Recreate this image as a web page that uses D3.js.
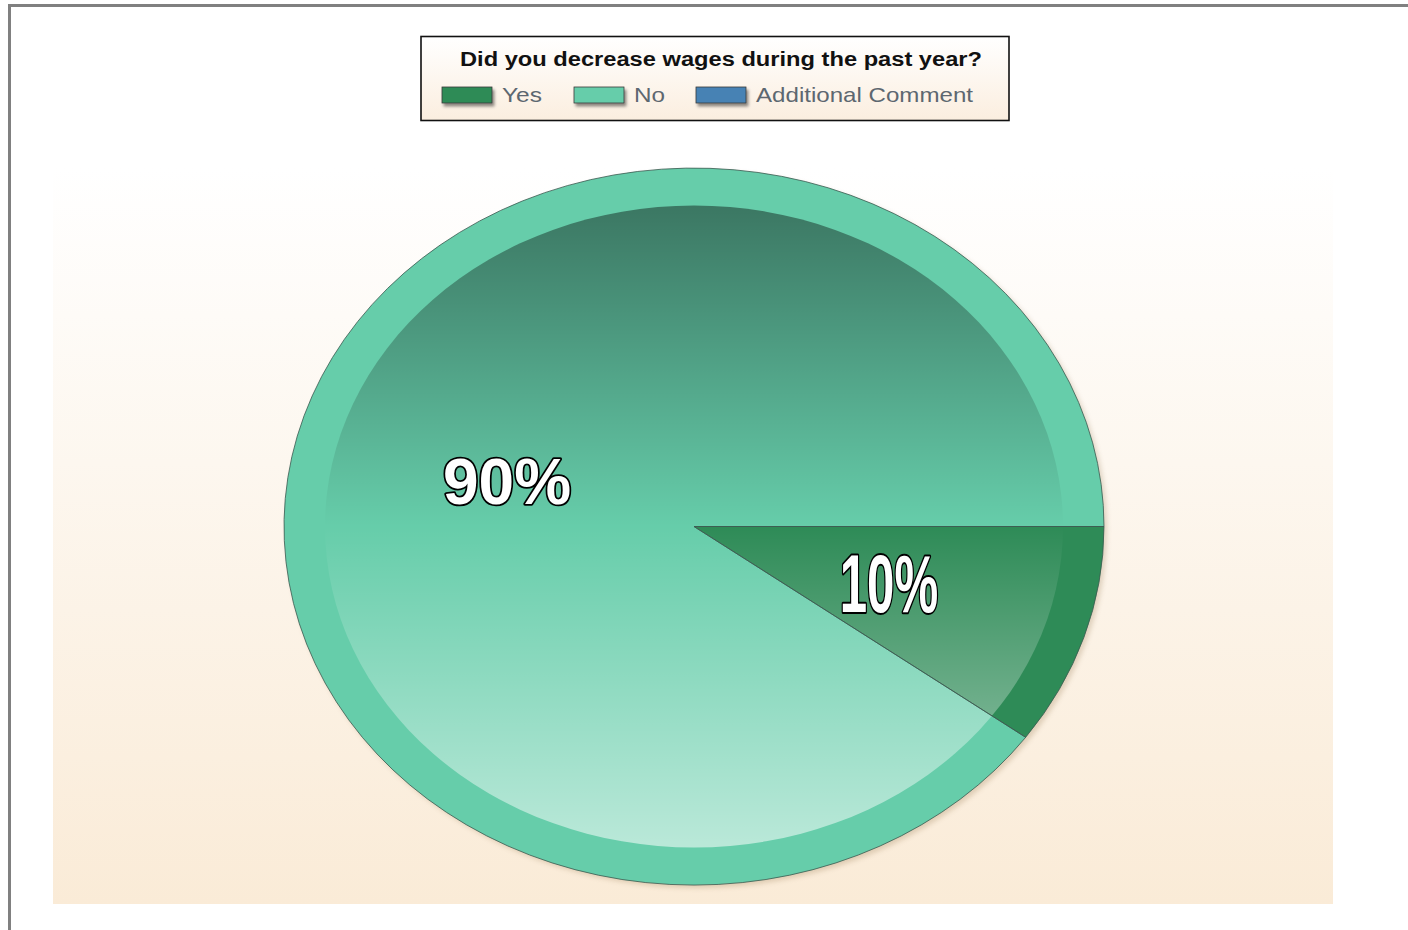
<!DOCTYPE html>
<html><head><meta charset="utf-8">
<script src="https://cdn.jsdelivr.net/npm/d3@7/dist/d3.min.js"></script>
<style>html,body{margin:0;padding:0;background:#fff;overflow:hidden}</style>
</head><body>
<svg id="chart" width="1408" height="930"></svg>
<script>
const title = "Did you decrease wages during the past year?";
const categories = ["Yes", "No", "Additional Comment"];
const values = [10, 90, 0];
const colors = ["#2E8B57", "#66CDAA", "#4682B4"];
const labels = ["10%", "90%", ""];

const svg = d3.select("#chart");
const defs = svg.append("defs");

const bgGrad = defs.append("linearGradient").attr("id","bgGrad").attr("x1",0).attr("y1",0).attr("x2",0).attr("y2",1);
bgGrad.append("stop").attr("offset","0%").attr("stop-color","#ffffff");
bgGrad.append("stop").attr("offset","100%").attr("stop-color","#FAEBD7");

const lgGrad = defs.append("linearGradient").attr("id","lgGrad").attr("x1",0).attr("y1",0).attr("x2",0).attr("y2",1);
lgGrad.append("stop").attr("offset","0%").attr("stop-color","#ffffff");
lgGrad.append("stop").attr("offset","100%").attr("stop-color","#FBEEDF");

const ovGrad = defs.append("linearGradient").attr("id","ovGrad").attr("x1",0).attr("y1",0).attr("x2",0).attr("y2",1);
ovGrad.append("stop").attr("offset","0%").attr("stop-color","#000").attr("stop-opacity",0.42);
ovGrad.append("stop").attr("offset","50%").attr("stop-color","#000").attr("stop-opacity",0.0);
ovGrad.append("stop").attr("offset","50%").attr("stop-color","#fff").attr("stop-opacity",0.0);
ovGrad.append("stop").attr("offset","100%").attr("stop-color","#fff").attr("stop-opacity",0.55);

const shadow = defs.append("filter").attr("id","shadow").attr("x","-10%").attr("y","-10%").attr("width","130%").attr("height","150%");
shadow.append("feDropShadow").attr("dx",2).attr("dy",3).attr("stdDeviation",1.5).attr("flood-color","#000").attr("flood-opacity",0.45);

const blur = defs.append("filter").attr("id","blur").attr("x","-5%").attr("y","-5%").attr("width","110%").attr("height","110%");
blur.append("feGaussianBlur").attr("stdDeviation",2.5);

// outer frame
svg.append("rect").attr("x",9.5).attr("y",5.5).attr("width",1500).attr("height",1000)
  .attr("fill","none").attr("stroke","#808080").attr("stroke-width",3);

// plot area
const plot = {x:53, y:168, w:1280, h:736};
svg.append("rect").attr("x",plot.x).attr("y",plot.y).attr("width",plot.w).attr("height",plot.h).attr("fill","url(#bgGrad)");

// pie geometry
const cx = 694, cy = 526.5, rx = 410, ry = 358.5, innerK = 0.9;

// soft shadow behind pie (unscaled coordinates)
svg.append("ellipse").attr("cx",cx+3).attr("cy",cy+3).attr("rx",rx).attr("ry",ry)
  .attr("fill","#8a6a40").attr("opacity",0.25).attr("filter","url(#blur)");

const pie = d3.pie().sort(null).value(d => d.v)
  .startAngle(Math.PI/2).endAngle(Math.PI/2 + 2*Math.PI);
const data = pie(categories.map((c,i) => ({c, v: values[i], col: colors[i], lab: labels[i]})));
const arc = d3.arc().innerRadius(0).outerRadius(1);

const g = svg.append("g").attr("transform", `translate(${cx},${cy}) scale(${rx},${ry})`);
g.selectAll("path.slice").data(data.filter(d => d.data.v > 0)).join("path")
  .attr("class","slice").attr("d", arc).attr("fill", d => d.data.col);

g.append("ellipse").attr("cx",0).attr("cy",0).attr("rx",innerK).attr("ry",innerK*0.995)
  .attr("fill","url(#ovGrad)");

g.selectAll("path.outline").data(data.filter(d => d.data.v > 0)).join("path")
  .attr("class","outline").attr("d", arc).attr("fill","none")
  .attr("stroke","#3b5a50").attr("stroke-opacity",0.8).attr("stroke-width",1)
  .attr("vector-effect","non-scaling-stroke");

// labels
const labArc = d3.arc().innerRadius(0.5).outerRadius(0.5);
data.filter(d => d.data.v > 0).forEach(d => {
  const [px, py] = labArc.centroid(d);
  const x = cx + px*rx, y = cy + py*ry;
  const small = d.data.v < 50;
  svg.append("text")
    .attr("transform", small ? `translate(${x},${y+30}) scale(0.6,1)` : `translate(${x+8},${y+33})`)
    .attr("text-anchor","middle")
    .attr("font-family","Liberation Sans, Arial, sans-serif")
    .attr("font-weight","bold")
    .attr("font-size", small ? 82 : 64)
    .attr("fill","#fff").attr("stroke","#000").attr("stroke-width", small ? 4 : 3.5)
    .attr("paint-order","stroke").attr("stroke-linejoin","round")
    .text(d.data.lab);
});

// legend
const lg = svg.append("g");
lg.append("rect").attr("x",421).attr("y",36.5).attr("width",588).attr("height",84)
  .attr("fill","url(#lgGrad)").attr("stroke","#111").attr("stroke-width",1.6);
lg.append("text").attr("x",721).attr("y",66).attr("text-anchor","middle")
  .attr("font-family","Liberation Sans, Arial, sans-serif").attr("font-weight","bold")
  .attr("font-size",20).attr("fill","#111").attr("textLength",522).attr("lengthAdjust","spacingAndGlyphs")
  .text(title);

const itemX = [442, 574, 696];
const textW = [40, 31, 217];
categories.forEach((c,i) => {
  lg.append("rect").attr("x",itemX[i]).attr("y",87).attr("width",50).attr("height",16)
    .attr("fill",colors[i]).attr("stroke","#3a3a3a").attr("stroke-width",0.8).attr("filter","url(#shadow)");
  lg.append("text").attr("x",itemX[i]+60).attr("y",102)
    .attr("font-family","Liberation Sans, Arial, sans-serif").attr("font-size",21)
    .attr("fill","#5d6770").attr("textLength",textW[i]).attr("lengthAdjust","spacingAndGlyphs")
    .text(c);
});
</script>
</body></html>
